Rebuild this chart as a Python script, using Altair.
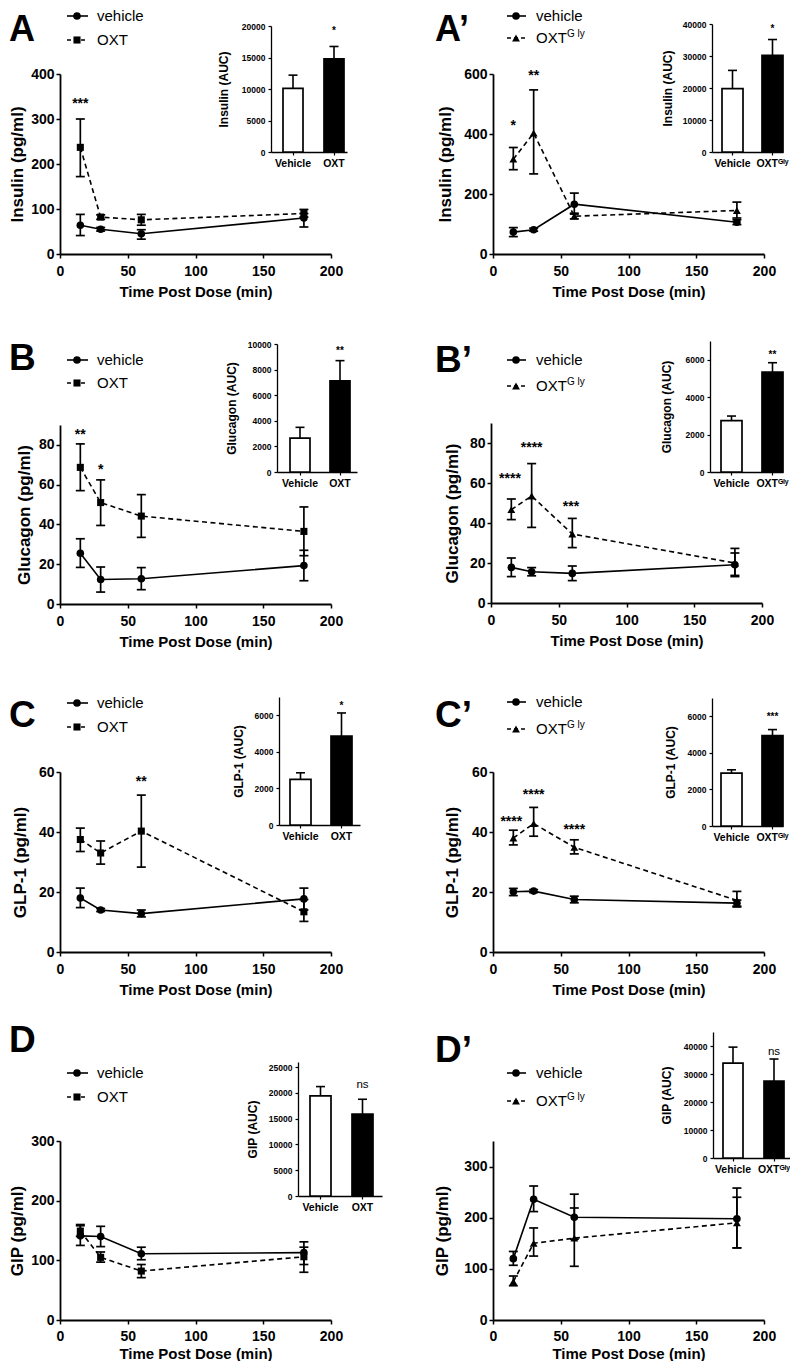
import altair as alt
import pandas as pd

FONT = "Liberation Sans"
OFF = 8
W, H = 782, 1353

TIME = [15, 30, 60, 180]
X_TICKS = [0, 50, 100, 150, 200]
CAT_OXT = ["Vehicle", "OXT"]
CAT_GLY = ["Vehicle", "OXT\u1d33\u02e1\u02b8"]

# ---------------- Panel A : Insulin, OXT ----------------
A_VEH = [64, 55, 45, 80]
A_VEH_LO = [41, 51, 33, 60]
A_VEH_HI = [88, 59, 54, 90]
A_TRT = [237, 82, 76, 90]
A_TRT_LO = [172, 77, 64, 82]
A_TRT_HI = [300, 87, 88, 99]
A_STAR_T = [15]
A_STAR_Y = [339]
A_STAR_TXT = ["***"]
A_AUC = [10100, 14800]
A_AUC_HI = [12200, 16750]
A_AUC_SIG = "*"
A_AUC_SIG_Y = 19600

# ---------------- Panel A' : Insulin, OXT-Gly ----------------
AP_VEH = [73, 81, 166, 106]
AP_VEH_LO = [58, 76, 133, 98]
AP_VEH_HI = [88, 86, 203, 114]
AP_TRT = [316, 403, 126, 145]
AP_TRT_LO = [281, 267, 117, 120]
AP_TRT_HI = [355, 547, 136, 173]
AP_STAR_T = [15, 30]
AP_STAR_Y = [436, 605]
AP_STAR_TXT = ["*", "**"]
AP_AUC = [19800, 30200]
AP_AUC_HI = [25500, 35150]
AP_AUC_SIG = "*"
AP_AUC_SIG_Y = 38950

# ---------------- Panel B : Glucagon, OXT ----------------
B_VEH = [25.5, 12.3, 12.7, 19.3]
B_VEH_LO = [18.4, 6.0, 7.2, 11.7]
B_VEH_HI = [32.8, 18.6, 18.3, 27.0]
B_TRT = [68.7, 51.0, 44.2, 36.5]
B_TRT_LO = [57.0, 39.5, 33.5, 24.3]
B_TRT_HI = [80.5, 62.4, 55.0, 48.8]
B_STAR_T = [15, 30]
B_STAR_Y = [86.7, 69]
B_STAR_TXT = ["**", "*"]
B_AUC = [2650, 7130]
B_AUC_HI = [3490, 8700]
B_AUC_SIG = "**"
B_AUC_SIG_Y = 9610

# ---------------- Panel B' : Glucagon, OXT-Gly ----------------
BP_VEH = [17.8, 15.6, 14.8, 19.1]
BP_VEH_LO = [13.2, 13.6, 11.2, 13.8]
BP_VEH_HI = [22.5, 17.7, 18.5, 25.0]
BP_TRT = [46.7, 53.5, 34.5, 20.0]
BP_TRT_LO = [41.7, 37.8, 27.7, 13.2]
BP_TRT_HI = [52.0, 69.7, 42.3, 27.3]
BP_STAR_T = [14, 30, 59]
BP_STAR_Y = [63.3, 79, 49.5]
BP_STAR_TXT = ["****", "****", "***"]
BP_AUC = [2740, 5340]
BP_AUC_HI = [2990, 5840]
BP_AUC_SIG = "**"
BP_AUC_SIG_Y = 6360

# ---------------- Panel C : GLP-1, OXT ----------------
C_VEH = [18.0, 14.0, 12.8, 17.7]
C_VEH_LO = [14.8, 13.5, 11.7, 14.0]
C_VEH_HI = [21.3, 14.5, 14.0, 21.3]
C_TRT = [37.5, 33.0, 40.3, 13.4]
C_TRT_LO = [33.5, 29.3, 28.3, 10.2]
C_TRT_HI = [41.3, 37.0, 52.3, 17.5]
C_STAR_T = [60]
C_STAR_Y = [57.8]
C_STAR_TXT = ["**"]
C_AUC = [2490, 4855]
C_AUC_HI = [2855, 6127]
C_AUC_SIG = "*"
C_AUC_SIG_Y = 6636

# ---------------- Panel C' : GLP-1, OXT-Gly ----------------
CP_VEH = [20.1, 20.3, 17.5, 16.3]
CP_VEH_LO = [18.8, 19.8, 16.4, 15.3]
CP_VEH_HI = [21.2, 20.8, 18.6, 17.3]
CP_TRT = [38.0, 42.8, 34.9, 17.2]
CP_TRT_LO = [35.7, 38.6, 32.7, 15.0]
CP_TRT_HI = [40.6, 48.2, 37.4, 20.2]
CP_STAR_T = [13.5, 30, 60]
CP_STAR_Y = [44.4, 53.3, 41.7]
CP_STAR_TXT = ["****", "****", "****"]
CP_AUC = [2890, 4945]
CP_AUC_HI = [3073, 5273]
CP_AUC_SIG = "***"
CP_AUC_SIG_Y = 6090

# ---------------- Panel D : GIP, OXT ----------------
D_VEH = [141, 140, 111, 113]
D_VEH_LO = [125, 123, 101, 93]
D_VEH_HI = [158, 157, 122, 131]
D_TRT = [149, 105, 82, 106]
D_TRT_LO = [140, 97, 71, 80]
D_TRT_HI = [160, 114, 93, 122]
D_STAR_T = []
D_STAR_Y = []
D_STAR_TXT = []
D_AUC = [19420, 15910]
D_AUC_HI = [21230, 18770]
D_AUC_SIG = "ns"
D_AUC_SIG_Y = 21560

# ---------------- Panel D' : GIP, OXT-Gly ----------------
DP_VEH = [120, 236, 201, 198]
DP_VEH_LO = [107, 212, 158, 141]
DP_VEH_HI = [134, 262, 246, 258]
DP_TRT = [75, 150, 160, 190]
DP_TRT_LO = [67, 125, 105, 141]
DP_TRT_HI = [86, 180, 219, 240]
DP_STAR_T = []
DP_STAR_Y = []
DP_STAR_TXT = []
DP_AUC = [33900, 27500]
DP_AUC_HI = [39600, 35350]
DP_AUC_SIG = "ns"
DP_AUC_SIG_Y = 37860

# ---------------- layout (page pixels) ----------------
LEG_L = dict(x0=67, x1=88, sx=77, tx=97)
LEG_R = dict(x0=507, x1=526, sx=516, tx=536)

LAYOUT = {
    "A": dict(x0=60, x1=331, y0=254, y1=74, ymax=400, yticks=[0, 100, 200, 300, 400], ytx=-38,
              xty=42, lpad=17,
              ins=dict(ax=271, v0=283, v1=303, o0=324, end=347, y0=152, y1=26, ymax=20000,
                       ticks=[0, 5000, 10000, 15000, 20000], tx=-44),
              letter=(9, 41, "A", 36), leg=LEG_L, rows=(16, 40)),
    "AP": dict(x0=493, x1=764, y0=254, y1=74, ymax=600, yticks=[0, 200, 400, 600], ytx=-43,
               xty=42, lpad=17,
               ins=dict(ax=712, v0=722, v1=743, o0=762, end=783, y0=152, y1=24, ymax=40000,
                        ticks=[0, 10000, 20000, 30000, 40000], tx=-41),
               letter=(435, 41, "A\u2019", 36), leg=LEG_R, rows=(16, 38)),
    "B": dict(x0=60, x1=331, y0=604, y1=425, ymax=90, yticks=[0, 20, 40, 60, 80], ytx=-31,
              xty=42, lpad=17,
              ins=dict(ax=277, v0=290, v1=310, o0=330, end=357, y0=472, y1=344, ymax=10000,
                       ticks=[0, 2000, 4000, 6000, 8000, 10000], tx=-42),
              letter=(9, 370, "B", 37), leg=LEG_L, rows=(360, 383)),
    "BP": dict(x0=491, x1=762, y0=603, y1=423, ymax=90, yticks=[0, 20, 40, 60, 80], ytx=-34,
               xty=42, lpad=17,
               ins=dict(ax=710, v0=721, v1=742, o0=762, end=783, y0=472, y1=341, ymax=7000,
                        ticks=[0, 2000, 4000, 6000], tx=-40),
               letter=(435, 372, "B\u2019", 37), leg=LEG_R, rows=(360, 386)),
    "C": dict(x0=60, x1=331, y0=952, y1=772, ymax=60, yticks=[0, 20, 40, 60], ytx=-35,
              xty=42, lpad=17,
              ins=dict(ax=279, v0=290, v1=311, o0=331, end=360, y0=825, y1=697, ymax=7000,
                       ticks=[0, 2000, 4000, 6000], tx=-37),
              letter=(9, 727, "C", 37), leg=LEG_L, rows=(703, 727)),
    "CP": dict(x0=493, x1=764, y0=952, y1=772, ymax=60, yticks=[0, 20, 40, 60], ytx=-36,
               xty=42, lpad=17,
               ins=dict(ax=712, v0=721, v1=742, o0=762, end=783, y0=826, y1=698, ymax=7000,
                        ticks=[0, 2000, 4000, 6000], tx=-38),
               letter=(435, 727, "C\u2019", 37), leg=LEG_R, rows=(702, 729)),
    "D": dict(x0=60, x1=331, y0=1320, y1=1141, ymax=300, yticks=[0, 100, 200, 300], ytx=-38,
              xty=38, lpad=16,
              ins=dict(ax=298, v0=310, v1=331, o0=352, end=382, y0=1196, y1=1062, ymax=26000,
                       ticks=[0, 5000, 10000, 15000, 20000, 25000], tx=-42),
              letter=(9, 1052, "D", 37), leg=LEG_L, rows=(1073, 1097)),
    "DP": dict(x0=493, x1=764, y0=1320, y1=1141, ymax=350, yticks=[0, 100, 200, 300], ytx=-46,
               xty=38, lpad=16,
               ins=dict(ax=713, v0=723, v1=743, o0=764, end=790, y0=1158, y1=1032, ymax=45000,
                        ticks=[0, 10000, 20000, 30000, 40000], tx=-43),
               letter=(435, 1062, "D\u2019", 37), leg=LEG_R, rows=(1073, 1101)),
}

PANELS = [
    dict(key="A", data=(A_VEH, A_VEH_LO, A_VEH_HI, A_TRT, A_TRT_LO, A_TRT_HI),
         stars=(A_STAR_T, A_STAR_Y, A_STAR_TXT), auc=(A_AUC, A_AUC_HI, A_AUC_SIG, A_AUC_SIG_Y),
         ytitle="Insulin (pg/ml)", atitle="Insulin (AUC)", cats=CAT_OXT, gly=False),
    dict(key="AP", data=(AP_VEH, AP_VEH_LO, AP_VEH_HI, AP_TRT, AP_TRT_LO, AP_TRT_HI),
         stars=(AP_STAR_T, AP_STAR_Y, AP_STAR_TXT), auc=(AP_AUC, AP_AUC_HI, AP_AUC_SIG, AP_AUC_SIG_Y),
         ytitle="Insulin (pg/ml)", atitle="Insulin (AUC)", cats=CAT_GLY, gly=True),
    dict(key="B", data=(B_VEH, B_VEH_LO, B_VEH_HI, B_TRT, B_TRT_LO, B_TRT_HI),
         stars=(B_STAR_T, B_STAR_Y, B_STAR_TXT), auc=(B_AUC, B_AUC_HI, B_AUC_SIG, B_AUC_SIG_Y),
         ytitle="Glucagon (pg/ml)", atitle="Glucagon (AUC)", cats=CAT_OXT, gly=False),
    dict(key="BP", data=(BP_VEH, BP_VEH_LO, BP_VEH_HI, BP_TRT, BP_TRT_LO, BP_TRT_HI),
         stars=(BP_STAR_T, BP_STAR_Y, BP_STAR_TXT), auc=(BP_AUC, BP_AUC_HI, BP_AUC_SIG, BP_AUC_SIG_Y),
         ytitle="Glucagon (pg/ml)", atitle="Glucagon (AUC)", cats=CAT_GLY, gly=True),
    dict(key="C", data=(C_VEH, C_VEH_LO, C_VEH_HI, C_TRT, C_TRT_LO, C_TRT_HI),
         stars=(C_STAR_T, C_STAR_Y, C_STAR_TXT), auc=(C_AUC, C_AUC_HI, C_AUC_SIG, C_AUC_SIG_Y),
         ytitle="GLP-1 (pg/ml)", atitle="GLP-1 (AUC)", cats=CAT_OXT, gly=False),
    dict(key="CP", data=(CP_VEH, CP_VEH_LO, CP_VEH_HI, CP_TRT, CP_TRT_LO, CP_TRT_HI),
         stars=(CP_STAR_T, CP_STAR_Y, CP_STAR_TXT), auc=(CP_AUC, CP_AUC_HI, CP_AUC_SIG, CP_AUC_SIG_Y),
         ytitle="GLP-1 (pg/ml)", atitle="GLP-1 (AUC)", cats=CAT_GLY, gly=True),
    dict(key="D", data=(D_VEH, D_VEH_LO, D_VEH_HI, D_TRT, D_TRT_LO, D_TRT_HI),
         stars=(D_STAR_T, D_STAR_Y, D_STAR_TXT), auc=(D_AUC, D_AUC_HI, D_AUC_SIG, D_AUC_SIG_Y),
         ytitle="GIP (pg/ml)", atitle="GIP (AUC)", cats=CAT_OXT, gly=False),
    dict(key="DP", data=(DP_VEH, DP_VEH_LO, DP_VEH_HI, DP_TRT, DP_TRT_LO, DP_TRT_HI),
         stars=(DP_STAR_T, DP_STAR_Y, DP_STAR_TXT), auc=(DP_AUC, DP_AUC_HI, DP_AUC_SIG, DP_AUC_SIG_Y),
         ytitle="GIP (pg/ml)", atitle="GIP (AUC)", cats=CAT_GLY, gly=True),
]


def c(v):
    return v - OFF


def build_main(P):
    L = LAYOUT[P["key"]]
    vm, vlo, vhi, tm, tlo, thi = P["data"]
    df = pd.DataFrame({
        "t": TIME + TIME, "mean": vm + tm, "lo": vlo + tlo, "hi": vhi + thi,
        "grp": ["veh"] * 4 + ["trt"] * 4})
    xs = alt.Scale(domain=[0, 200], range=[c(L["x0"]), c(L["x1"])], nice=False, zero=False)
    ys = alt.Scale(domain=[0, L["ymax"]], range=[c(L["y0"]), c(L["y1"])], nice=False, zero=False)
    xax = alt.Axis(orient="bottom", offset=c(L["y0"]) - H, values=X_TICKS, format="d",
                   title="Time Post Dose (min)", titleFontSize=15, titleY=L["xty"],
                   titleBaseline="alphabetic", labelFontSize=14, labelBaseline="alphabetic",
                   labelPadding=L["lpad"], labelFlush=False, labelOverlap=False,
                   tickSize=4, tickWidth=1.5, domainWidth=1.8, grid=False)
    yax = alt.Axis(orient="left", offset=-c(L["x0"]), values=L["yticks"], format="d",
                   title=P["ytitle"], titleFontSize=17, titleX=L["ytx"],
                   titleBaseline="alphabetic", labelFontSize=14, labelPadding=2,
                   labelOverlap=False, tickSize=4, tickWidth=1.5, domainWidth=1.8, grid=False)

    def X(f):
        return alt.X(f, type="quantitative", scale=xs, axis=xax)

    def Y(f):
        return alt.Y(f, type="quantitative", scale=ys, axis=yax)

    base = alt.Chart(df)
    veh = base.transform_filter(alt.datum.grp == "veh")
    trt = base.transform_filter(alt.datum.grp == "trt")
    shape = "triangle-up" if P["gly"] else "square"
    tsize = 62 if P["gly"] else 50
    layers = [
        base.mark_rule(color="black", strokeWidth=1.7).encode(x=X("t"), y=Y("lo"), y2=alt.Y2("hi")),
        base.mark_tick(orient="horizontal", color="black", size=9, thickness=1.7, opacity=1)
            .encode(x=X("t"), y=Y("hi")),
        base.mark_tick(orient="horizontal", color="black", size=9, thickness=1.7, opacity=1)
            .encode(x=X("t"), y=Y("lo")),
        veh.mark_line(color="black", strokeWidth=1.6).encode(x=X("t"), y=Y("mean")),
        trt.mark_line(color="black", strokeWidth=1.6, strokeDash=[5, 3.5]).encode(x=X("t"), y=Y("mean")),
        veh.mark_point(shape="circle", filled=True, size=58, color="black", opacity=1)
            .encode(x=X("t"), y=Y("mean")),
        trt.mark_point(shape=shape, filled=True, size=tsize, color="black", opacity=1)
            .encode(x=X("t"), y=Y("mean")),
    ]
    st, sy, stxt = P["stars"]
    if st:
        sdf = pd.DataFrame({"t": st, "y": sy, "s": stxt})
        layers.append(alt.Chart(sdf).mark_text(font=FONT, fontSize=14, fontWeight="bold", dy=7,
                                               baseline="alphabetic", color="black")
                      .encode(x=X("t"), y=Y("y"), text="s:N"))
    return alt.layer(*layers)


def build_inset(P):
    I = LAYOUT[P["key"]]["ins"]
    vals, his, sig, sig_y = P["auc"]
    cats = P["cats"]
    df = pd.DataFrame({"cat": cats, "mean": vals, "hi": his})
    step = I["o0"] - I["v0"]
    bw = I["v1"] - I["v0"]
    pin = 1 - bw / step
    rng = I["end"] - I["ax"]
    left = rng - step * (2 - pin)
    pout = max(left, 0) / (2 * step)
    al = min(max((I["v0"] - I["ax"]) / left, 0), 1) if left > 0 else 0.5
    xs = alt.Scale(domain=cats, range=[c(I["ax"]), c(I["end"])], paddingInner=pin,
                   paddingOuter=pout, align=al)
    ys = alt.Scale(domain=[0, I["ymax"]], range=[c(I["y0"]), c(I["y1"])], nice=False, zero=False)
    xax = alt.Axis(orient="bottom", offset=c(I["y0"]) - H, title=None, labelAngle=0,
                   labelFontSize=10.5, labelBaseline="alphabetic", labelPadding=11,
                   labelOverlap=False, tickSize=3, tickWidth=1.2, domainWidth=1.3, grid=False)
    yax = alt.Axis(orient="left", offset=-c(I["ax"]), values=I["ticks"], format="d",
                   title=P["atitle"], titleFontSize=12, titleX=I["tx"], titleBaseline="alphabetic",
                   labelFontSize=8.5, labelPadding=3, labelOverlap=False, tickSize=3,
                   tickWidth=1.2, domainWidth=1.3, grid=False)

    def X():
        return alt.X("cat:N", scale=xs, axis=xax)

    def Y(f):
        return alt.Y(f, type="quantitative", scale=ys, axis=yax)

    base = alt.Chart(df)
    layers = [
        base.mark_rule(color="black", strokeWidth=1.6).encode(x=X(), y=Y("mean"), y2=alt.Y2("hi")),
        base.mark_tick(orient="horizontal", color="black", size=9, thickness=1.6, opacity=1)
            .encode(x=X(), y=Y("hi")),
        base.mark_bar(stroke="black", strokeWidth=1.7)
            .encode(x=X(), y=Y("mean"),
                    fill=alt.condition(alt.datum.cat == "Vehicle", alt.value("white"), alt.value("black"))),
    ]
    sdf = pd.DataFrame({"cat": [cats[1]], "y": [sig_y], "s": [sig]})
    if sig == "ns":
        txt = alt.Chart(sdf).mark_text(font=FONT, fontSize=11.5, dy=3, baseline="alphabetic", color="black")
    else:
        txt = alt.Chart(sdf).mark_text(font=FONT, fontSize=10, fontWeight="bold", dy=5,
                                       baseline="alphabetic", color="black")
    layers.append(txt.encode(x=X(), y=Y("y"), text="s:N"))
    return alt.layer(*layers)


ONE = pd.DataFrame({"k": [0]})


def deco_text(x, y, s, size, weight="normal"):
    return alt.Chart(ONE).mark_text(text=s, font=FONT, fontSize=size, fontWeight=weight, align="left",
                                    baseline="alphabetic", color="black").encode(
        x=alt.value(c(x)), y=alt.value(c(y)))


def deco_line(x0, x1, y, dash=None):
    kw = dict(color="black", strokeWidth=1.6)
    if dash:
        kw["strokeDash"] = dash
    return alt.Chart(ONE).mark_rule(**kw).encode(x=alt.value(c(x0)), x2=alt.value(c(x1)), y=alt.value(c(y)))


def deco_sym(x, y, shape, size):
    return alt.Chart(ONE).mark_point(shape=shape, filled=True, size=size, color="black", opacity=1).encode(
        x=alt.value(c(x)), y=alt.value(c(y)))


layers = []
for P in PANELS:
    layers.append(alt.layer(build_main(P), build_inset(P)).resolve_scale(x="independent", y="independent"))

for P in PANELS:
    L = LAYOUT[P["key"]]
    lx, ly, ltxt, lsize = L["letter"]
    layers.append(deco_text(lx, ly, ltxt, lsize, "bold"))
    g = L["leg"]
    r1, r2 = L["rows"]
    layers.append(deco_line(g["x0"], g["x1"], r1))
    layers.append(deco_sym(g["sx"], r1, "circle", 58))
    layers.append(deco_text(g["tx"], r1 + 5, "vehicle", 15))
    layers.append(deco_line(g["x0"], g["x1"], r2, [4, 3]))
    if P["gly"]:
        layers.append(deco_sym(g["sx"], r2, "triangle-up", 62))
        layers.append(deco_text(g["tx"], r2 + 5, "OXT", 15))
        layers.append(deco_text(g["tx"] + 31, r2 - 1, "G ly", 10))
    else:
        layers.append(deco_sym(g["sx"], r2, "square", 50))
        layers.append(deco_text(g["tx"], r2 + 5, "OXT", 15))

chart = (
    alt.layer(*layers)
    .resolve_scale(x="independent", y="independent")
    .properties(width=W, height=H, padding=0, autosize=alt.AutoSizeParams(type="none"))
    .configure_view(stroke=None)
    .configure_axis(labelFont=FONT, titleFont=FONT, labelFontWeight="bold", titleFontWeight="bold",
                    labelColor="black", titleColor="black", domainColor="black", tickColor="black")
)

chart.save("out.html", embed_options={"renderer": "svg", "actions": False})
